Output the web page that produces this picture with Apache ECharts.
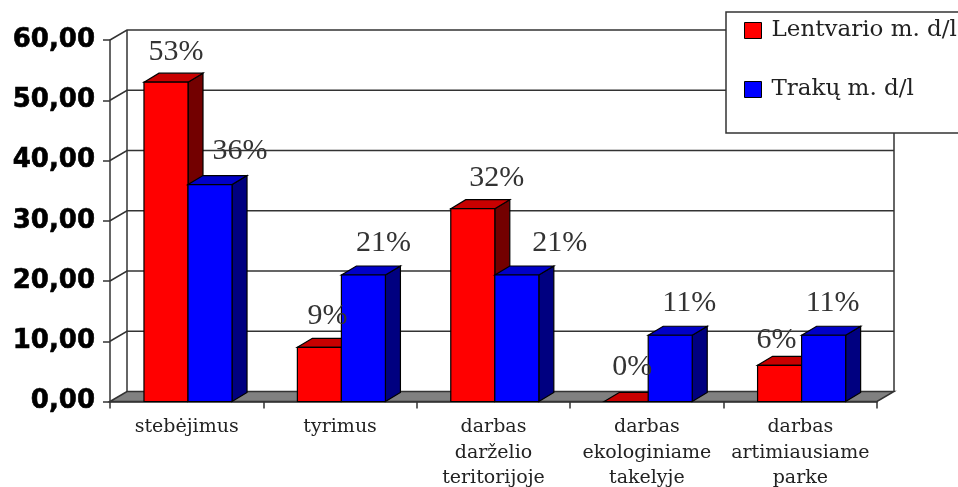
<!DOCTYPE html>
<html><head><meta charset="utf-8">
<style>html,body{margin:0;padding:0;background:#fff;overflow:hidden}#c{width:958px;height:487px}</style>
<script src="https://cdn.jsdelivr.net/npm/echarts@6/dist/echarts.min.js"></script>
</head><body><div id="c"></div>
<script>
const categories = ['stebėjimus','tyrimus','darbas\ndarželio\nteritorijoje','darbas\nekologiniame\ntakelyje','darbas\nartimiausiame\nparke'];
const seriesNames = ['Lentvario m. d/l','Trakų m. d/l'];
const lentvario = [53, 9, 32, 0, 6];
const traku = [36, 21, 21, 11, 11];
const lentvarioLabels = ['53%','9%','32%','0%','6%'];
const trakuLabels = ['36%','21%','21%','11%','11%'];
const yTicks = [0, 10, 20, 30, 40, 50, 60];

// label displacement from bar-top centre, in px (style only)
const lentvarioNudge = [[10,-30],[8,-31],[24,-31],[6,-34],[-3,-25]];
const trakuNudge = [[30,-33],[20,-32],[43,-32],[19,-32],[9,-32]];
const DX = 17, DY = -10, BDX = 15, BDY = -9;
const INK = '#333';

function poly(points, fill) {
  return {type:'polygon', shape:{points},
    style:{fill, stroke:'#000', lineWidth:1.2}};
}
function barRenderer(side, front, top, dark) {
  return function (params, api) {
    const i = api.value(0), v = api.value(1);
    const p = api.coord([i, v]), b = api.coord([i, 0]);
    const w = api.size([1, 0])[0] * 0.287;
    const cx = p[0] + 1.3;
    const x0 = side < 0 ? cx - w : cx, x1 = x0 + w;
    const t = p[1], g = b[1];
    const children = [
      poly([[x1,g],[x1+BDX,g+BDY],[x1+BDX,t+BDY],[x1,t]], dark),
      poly([[x0,t],[x0+BDX,t+BDY],[x1+BDX,t+BDY],[x1,t]], top),
      poly([[x0,t],[x1,t],[x1,g],[x0,g]], front)
    ];
    return {type:'group', children};
  };
}
function labelRenderer(side, labels, nudges) {
  return function (params, api) {
    const i = api.value(0), v = api.value(1);
    const p = api.coord([i, v]);
    const w = api.size([1, 0])[0] * 0.287;
    const cx = p[0] + 1.3 + side * w / 2;
    const n = nudges[i];
    return {type:'text', style:{text:labels[i], x:cx+n[0], y:p[1]+n[1],
      align:'center', verticalAlign:'middle',
      font:'30px "Liberation Serif"', fill:'#333'}};
  };
}
function wallRenderer(params, api) {
  const cs = params.coordSys;
  const v = api.value(0);
  const y = api.coord([0, v])[1];
  const x0 = cs.x, x1 = cs.x + cs.width;
  const line = {stroke:INK, lineWidth:1.5, fill:null};
  const kids = [];
  if (v === 0) {
    const top = api.coord([0, yTicks[yTicks.length-1]])[1];
    kids.push({type:'polygon', shape:{points:[[x0,y],[x0+DX,y+DY],[x1+DX,y+DY],[x1,y]]},
      style:{fill:'#808080', stroke:INK, lineWidth:1.5}});
    kids.push({type:'polyline', shape:{points:[[x0+DX,y+DY],[x0+DX,top+DY]]}, style:line});
    kids.push({type:'polyline', shape:{points:[[x1+DX,y+DY],[x1+DX,top+DY]]}, style:line});
  } else {
    kids.push({type:'polyline', shape:{points:[[x0,y],[x0+DX,y+DY],[x1+DX,y+DY]]}, style:line});
  }
  return {type:'group', children:kids};
}
const idx = a => a.map((v,i)=>[i,v]);

const chart = echarts.init(document.getElementById('c'), null, {renderer:'canvas'});
chart.setOption({
  animation:false,
  backgroundColor:'#fff',
  grid:{left:110, right:81, top:40, bottom:85.5, outerBoundsMode:'none'},
  legend:{
    data:seriesNames, orient:'vertical', left:726, top:12,
    padding:[7,40,32,18], itemGap:36, itemWidth:17, itemHeight:16,
    backgroundColor:'#fff', borderColor:INK, borderWidth:1.5,
    icon:'rect', itemStyle:{borderColor:'#000', borderWidth:1},
    textStyle:{fontFamily:'DejaVu Serif', fontSize:23, color:'#222', lineHeight:16, padding:[0,0,0,5]}, z:20
  },
  xAxis:{type:'category', data:categories, boundaryGap:true,
    axisLine:{show:true, lineStyle:{color:INK, width:1.5}},
    axisTick:{show:true, length:7, alignWithLabel:false, lineStyle:{color:INK, width:1.5}},
    axisLabel:{interval:0, margin:13, fontFamily:'DejaVu Serif', fontSize:19, lineHeight:25.5, color:'#222'},
    splitLine:{show:false}
  },
  yAxis:{type:'value', min:0, max:60, interval:10,
    axisLine:{show:true, lineStyle:{color:INK, width:1.5}},
    axisTick:{show:true, length:7, lineStyle:{color:INK, width:1.5}},
    axisLabel:{margin:15, fontFamily:'DejaVu Sans', fontWeight:'bold', fontSize:26, color:'#000',
      textBorderColor:'#000', textBorderWidth:0.6,
      formatter:v=>v.toFixed(2).replace('.',',')},
    splitLine:{show:false}
  },
  series:[
    {type:'custom', name:'wall', z:1, silent:true, clip:false, renderItem:wallRenderer,
     data:yTicks.map(v=>[v]), encode:{y:0}},
    {type:'custom', name:seriesNames[0], z:3, clip:false, itemStyle:{color:'#ff0000'},
     renderItem:barRenderer(-1,'#ff0000','#c80000','#730000'), data:idx(lentvario), encode:{x:0,y:1}},
    {type:'custom', name:seriesNames[1], z:4, clip:false, itemStyle:{color:'#0000ff'},
     renderItem:barRenderer(1,'#0000ff','#0000c8','#000080'), data:idx(traku), encode:{x:0,y:1}},
    {type:'custom', name:'labels1', z:5, silent:true, clip:false,
     renderItem:labelRenderer(-1,lentvarioLabels,lentvarioNudge), data:idx(lentvario), encode:{x:0,y:1}},
    {type:'custom', name:'labels2', z:5, silent:true, clip:false,
     renderItem:labelRenderer(1,trakuLabels,trakuNudge), data:idx(traku), encode:{x:0,y:1}}
  ]
});
</script></body></html>
